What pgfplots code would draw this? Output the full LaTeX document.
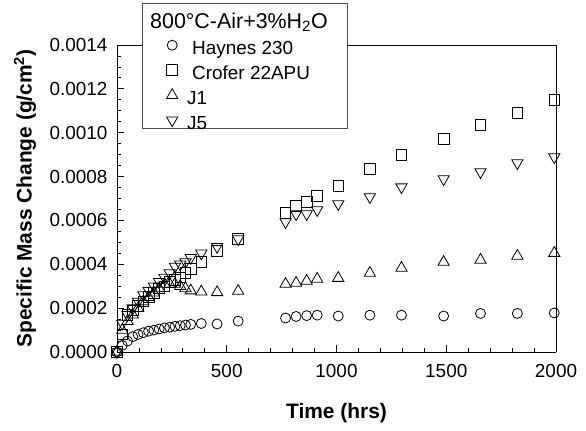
\documentclass[border=0pt]{standalone}
\usepackage{fontspec}
\setmainfont{Liberation Sans}
\usepackage{pgfplots}
\pgfplotsset{compat=1.18}

\begin{document}
\begin{tikzpicture}[x=1bp,y=1bp]
\useasboundingbox (-117,-78) rectangle (469,352);
% legend frame, drawn first so that the data axis goes over it
\draw[black!70, line width=0.8bp, fill=white] (25,224) rectangle (230,349);
\begin{axis}[
  at={(0,0)}, anchor=south west,
  scale only axis, width=439bp, height=307bp,
  xmin=0, xmax=2000, ymin=0, ymax=0.0014,
  axis x line*=bottom, axis y line*=left,
  axis line style={line width=0.8bp, -},
  xtick={0,500,1000,1500,2000}, minor x tick num=4,
  ytick={0,0.0002,0.0004,0.0006,0.0008,0.0010,0.0012,0.0014},
  minor y tick num=3,
  tick align=inside,
  major tick length=7bp, minor tick length=4bp,
  tick style={black, line width=0.8bp},
  clip=false,
  scaled y ticks=false,
  /pgf/number format/assume math mode=true,
  /pgf/number format/1000 sep={},
  yticklabel style={xshift=-6bp, /pgf/number format/fixed,
    /pgf/number format/fixed zerofill, /pgf/number format/precision=4},
  ticklabel style={font=\fontsize{19}{19}\selectfont},
  xticklabel style={yshift=-9bp},
  xlabel={Time (hrs)},
  ylabel={Specific Mass Change (g/cm\textsuperscript{2})},
  xlabel style={at={(axis description cs:0.5,-0.199)}, anchor=center,
    font=\bfseries\fontsize{21}{21}\selectfont},
  ylabel style={at={(axis description cs:-0.2096,0.5)}, anchor=center,
    font=\bfseries\fontsize{21}{21}\selectfont},
  legend cell align=left,
  legend style={at={(axis description cs:0.0615,1.0238)}, anchor=north west,
    draw=none, fill=none, inner sep=0bp, column sep=0bp, row sep=0bp,
    font=\fontsize{19}{19}\selectfont,
    nodes={inner xsep=0bp, inner ysep=0bp, text height=14bp, text depth=8bp}},
  legend image code/.code={
    \path[draw=none, fill=none] (0bp,-8bp) rectangle (48bp,14bp);
    \draw[#1] plot coordinates {(28bp,6.7bp)};},
  every axis plot/.append style={only marks, black, line width=0.8bp,
    mark options={solid, fill=none}},
]
% Haynes 230
\addplot[mark=o, mark size=5bp] coordinates {
  (0,0) (24,0.00003) (48,0.00005) (72,0.00007) (96,0.00008) (120,0.000088)
  (144,0.000095) (168,0.0001) (192,0.000105) (216,0.00011) (240,0.000113)
  (264,0.000117) (288,0.00012) (312,0.000123) (336,0.000126) (384,0.00013)
  (456,0.000128) (552,0.000141) (768,0.000155) (816,0.000162) (864,0.000166)
  (912,0.000168) (1008,0.000164) (1152,0.000168) (1296,0.000168)
  (1488,0.000164) (1656,0.000176) (1824,0.000176) (1992,0.000178)
};
\addlegendentry{Haynes 230}

% Crofer 22APU
\addplot[mark=square, mark size=5.3bp] coordinates {
  (0,0) (24,0.00008) (48,0.00017) (72,0.00019) (96,0.00021) (120,0.00023)
  (144,0.00025) (168,0.00027) (192,0.00029) (216,0.0003) (240,0.00032)
  (264,0.00033) (288,0.00034) (312,0.00036) (336,0.00038) (384,0.00041)
  (456,0.00046) (552,0.000515) (768,0.000634) (816,0.000666) (864,0.000684)
  (912,0.000711) (1008,0.000757) (1152,0.000834) (1296,0.000898)
  (1488,0.000971) (1656,0.001035) (1824,0.00109) (1992,0.00115)
};
\addlegendentry{Crofer 22APU}

% J1
\addplot[mark=triangle, mark size=6.5bp] coordinates {
  (0,0) (24,0.0001) (48,0.00014) (72,0.00017) (96,0.0002) (120,0.00023)
  (144,0.00025) (168,0.00027) (192,0.00029) (216,0.00031) (240,0.00031)
  (264,0.00031) (288,0.0003) (312,0.00029) (336,0.00028) (384,0.000275)
  (456,0.000272) (552,0.000278) (768,0.00031) (816,0.000315) (864,0.000324)
  (912,0.000333) (1008,0.000337) (1152,0.00036) (1296,0.000383)
  (1488,0.00041) (1656,0.00042) (1824,0.000438) (1992,0.000451)
};
\addlegendentry{\hspace*{-5bp}J1}

% J5
\addplot[mark=triangle, mark size=6.5bp, mark options={rotate=180}] coordinates {
  (0,0) (24,0.00013) (48,0.00017) (72,0.0002) (96,0.00023) (120,0.00026)
  (144,0.00028) (168,0.0003) (192,0.00032) (216,0.00034) (240,0.00036)
  (264,0.00039) (288,0.0004) (312,0.00041) (336,0.00043) (384,0.00045)
  (456,0.00048) (552,0.000515) (768,0.000593) (816,0.000629) (864,0.000629)
  (912,0.000648) (1008,0.000675) (1152,0.000707) (1296,0.000752)
  (1488,0.000789) (1656,0.000821) (1824,0.000862) (1992,0.000889)
};
\addlegendentry{\hspace*{-5bp}J5}
\end{axis}
% top and right sides of the frame, broken where the legend box sits
\draw[black, line width=0.8bp] (0,307) -- (25,307);
\draw[black, line width=0.8bp] (230,307) -- (439,307) -- (439,0);
\node[anchor=base west, inner sep=0pt, font=\fontsize{21.5}{21.5}\selectfont]
  at (33,323.5) {800°C-Air+3\%H\textsubscript{2}O};
\end{tikzpicture}
\end{document}
